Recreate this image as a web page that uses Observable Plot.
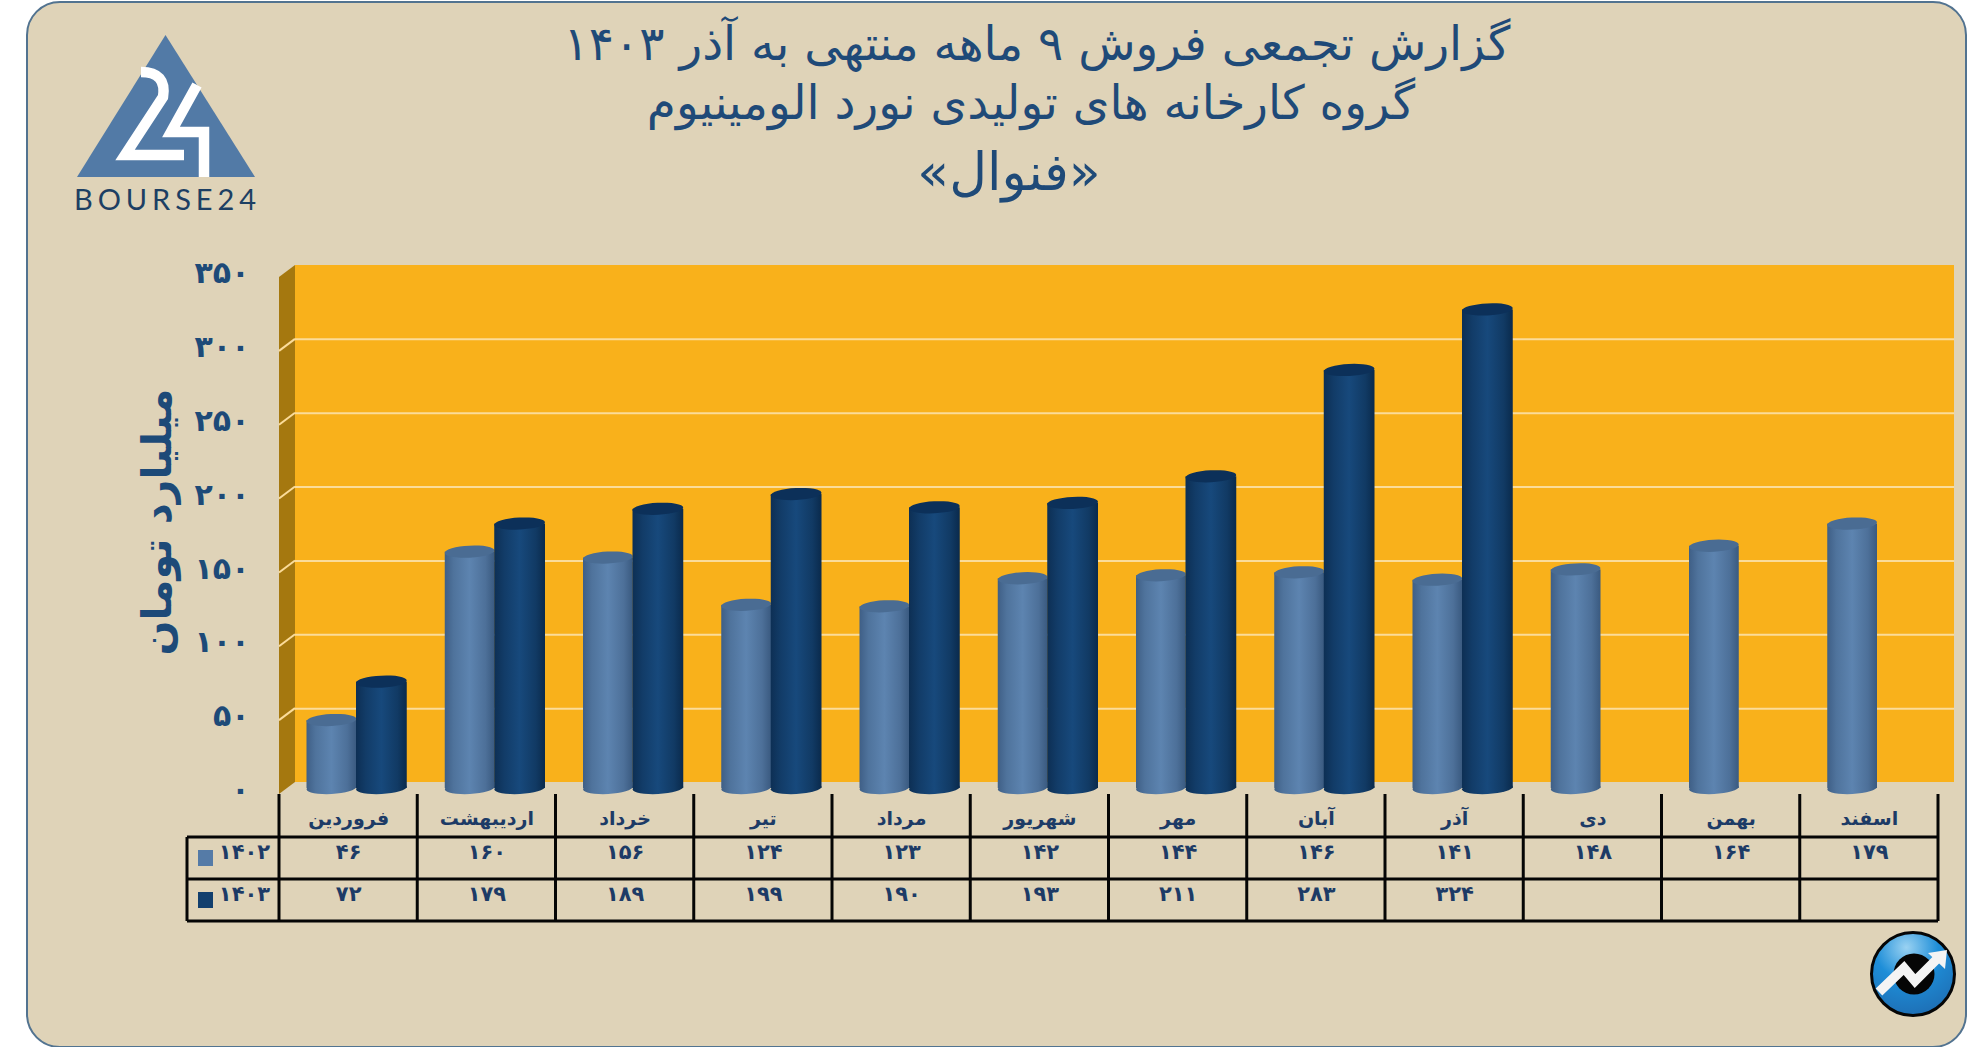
<!DOCTYPE html>
<html lang="fa"><head><meta charset="utf-8">
<script src="https://cdn.jsdelivr.net/npm/d3@7"></script>
<script src="https://cdn.jsdelivr.net/npm/@observablehq/plot@0.6"></script>
<style>
html,body{margin:0;padding:0;background:#fff;}
body{width:1986px;height:1047px;overflow:hidden;position:relative;font-family:"DejaVu Sans",sans-serif;}
#card{position:absolute;left:26px;top:1px;width:1937px;height:1043px;background:#dfd3b8;border:2.5px solid #527390;border-radius:34px;box-sizing:content-box;}
#title{position:absolute;left:0;width:1986px;text-align:center;color:#1f4a78;direction:rtl;}
#title div{position:absolute;left:500px;width:1074px;text-align:center;white-space:nowrap;}
#chart{position:absolute;left:0;top:0;}
#logo,#icon{position:absolute;left:0;top:0;}
</style></head><body>
<div id="card"></div>
<div id="title">
<div style="top:16px;font-size:47px;line-height:56px;">گزارش تجمعی فروش ۹ ماهه منتهی به آذر ۱۴۰۳</div>
<div style="top:75px;left:494px;font-size:47px;line-height:56px;">گروه کارخانه های تولیدی نورد الومینیوم</div>
<div style="top:142px;left:472px;font-size:52px;line-height:60px;">«فنوال»</div>
</div>
<svg id="logo" width="1986" height="1047">
<path d="M165.500 35 L255 177 L77 177 Z" fill="#527aa6"/>
<path d="M141 72 Q167 72 163 97 L125 155 L184 155" fill="none" stroke="#fff" stroke-width="10.500"/>
<path d="M197 85 L171 132 L204 132 L204 177" fill="none" stroke="#fff" stroke-width="10.500"/>
<text x="74" y="210" font-family="Lato" font-size="29" fill="#1d3f63" textLength="182" lengthAdjust="spacing">BOURSE24</text>
</svg>
<svg id="icon" width="1986" height="1047">
<defs><radialGradient id="ig" cx="0.42" cy="0.18" r="0.85"><stop offset="0" stop-color="#9ad2f2"/><stop offset="0.45" stop-color="#1e8ed8"/><stop offset="1" stop-color="#1e6eb4"/></radialGradient></defs>
<circle cx="1913" cy="974" r="41.500" fill="url(#ig)" stroke="#060606" stroke-width="3"/>
<circle cx="1914" cy="974" r="20.500" fill="#050505"/>
<path d="M1879 992 L1904 968 L1915 981 L1937 959" fill="none" stroke="#f4f4f4" stroke-width="9.500"/>
<path d="M1928 953 L1947 950 L1945 969 Z" fill="#f4f4f4"/>
</svg>
<div id="chart"></div>
<script>
const months = ["فروردین","اردیبهشت","خرداد","تیر","مرداد","شهریور","مهر","آبان","آذر","دی","بهمن","اسفند"];
const sales1402 = [46,160,156,124,123,142,144,146,141,148,164,179];
const sales1403 = [72,179,189,199,190,193,211,283,324,null,null,null];
const yTicks = [0,50,100,150,200,250,300,350];
const seriesLabels = ["۱۴۰۲","۱۴۰۳"];
const yLabel = "میلیارد تومان";

const fa = (v) => v == null ? "" : String(v).replace(/\d/g, (d) => "۰۱۲۳۴۵۶۷۸۹"[d]);
const textColor = "#1d3b66";
const rows = months.map((m,i)=>({month:m,a:sales1402[i],b:sales1403[i]}));
const rowsB = rows.filter(d=>d.b!=null);

// depth of the 3-D box, in pixels
const depthX = 16, depthY = 6;

const defs = () => {
  const s = d3.create("svg:defs");
  const grad = (id, stops) => {
    const g = s.append("linearGradient").attr("id", id).attr("x1",0).attr("x2",1).attr("y1",0).attr("y2",0);
    stops.forEach(([o,c]) => g.append("stop").attr("offset",o).attr("stop-color",c));
  };
  grad("light",[[0,"#3f5f86"],[0.18,"#4f739c"],[0.5,"#5d84b0"],[0.82,"#4d7099"],[1,"#3a5a80"]]);
  grad("dark",[[0,"#0d2f54"],[0.2,"#123c68"],[0.5,"#17497c"],[0.82,"#113a64"],[1,"#0a2a4c"]]);
  return s.node();
};

const box = (index, {x, y}) => {
  const g = d3.create("svg:g");
  const x0 = x(months[0]), x1 = x(months[11]) + x.bandwidth();
  // back wall
  g.append("rect").attr("x", x0+depthX).attr("y", y(350)-depthY)
    .attr("width", x1-x0).attr("height", y(0)-y(350)).attr("fill","#f9b11b");
  // side wall
  g.append("polygon").attr("fill","#a5780f").attr("points",[
    [x0,y(350)+depthY],[x0+depthX,y(350)-depthY],[x0+depthX,y(0)-depthY],[x0,y(0)+depthY]
  ].join(" "));
  // slanted grid on side wall
  yTicks.filter(t=>t>0&&t<350).forEach(t=>{
    g.append("line").attr("x1",x0).attr("x2",x0+depthX)
      .attr("y1",y(t)+depthY).attr("y2",y(t)-depthY)
      .attr("stroke","#fbdc9a").attr("stroke-width",2);
  });
  return g.node();
};

const caps = (data, key, top, idx, left, width) => (index, {x, y}) => {
  const g = d3.create("svg:g");
  data.forEach(d=>{
    const cx = x(d.month)+left+width/2;
    g.append("ellipse").attr("cx",cx).attr("cy",y(0)).attr("rx",width/2).attr("ry",depthY)
      .attr("fill",`url(#${idx})`).attr("transform",`rotate(-3 ${cx} ${y(0)})`);
    g.append("ellipse").attr("cx",cx).attr("cy",y(d[key])).attr("rx",width/2).attr("ry",depthY)
      .attr("fill",top).attr("transform",`rotate(-3 ${cx} ${y(d[key])})`);
  });
  return g.node();
};

// table geometry
const tableLeft = 187, tableTop = 837, tableMid = 879, tableBottom = 921, tableHead = 794;
const table = (index, {x}) => {
  const g = d3.create("svg:g").attr("stroke","#050505").attr("stroke-width",3);
  const xEnd = x(months[11]) + x.bandwidth();
  const line = (a,b,c,e)=>g.append("line").attr("x1",a).attr("y1",b).attr("x2",c).attr("y2",e);
  [tableTop,tableMid,tableBottom].forEach(yy=>line(tableLeft,yy,xEnd,yy));
  line(tableLeft,tableTop,tableLeft,tableBottom);
  months.forEach(m=>line(x(m),tableHead,x(m),tableBottom));
  line(xEnd,tableHead,xEnd,tableBottom);
  // legend swatches
  [["#557ba7",850],["#123f6e",892]].forEach(([c,yy])=>{
    g.append("rect").attr("x",198).attr("y",yy).attr("width",15).attr("height",16).attr("fill",c).attr("stroke","none");
  });
  return g.node();
};

const cellText = {frameAnchor:"bottom",lineAnchor:"middle",fontWeight:"bold",fill:textColor};
const plot = Plot.plot({
  width:1986, height:1047,
  marginLeft:279, marginRight:48, marginTop:271, marginBottom:259,
  style:{background:"transparent",fontFamily:"'DejaVu Sans',sans-serif"},
  x:{type:"band",domain:months,padding:0,axis:null,round:false},
  y:{domain:[0,350],axis:null},
  marks:[
    defs,
    box,
    Plot.ruleY(yTicks.filter(t=>t>0&&t<350),{stroke:"#fbdc9a",strokeWidth:2,dx:depthX,dy:-depthY}),
    Plot.barY(rows,{x:"month",y:"a",fill:"url(#light)",insetLeft:27.500,insetRight:61}),
    caps(rows,"a","#4a6c93","light",27.500,49.750),
    Plot.barY(rowsB,{x:"month",y:"b",fill:"url(#dark)",insetLeft:77,insetRight:10.500}),
    caps(rowsB,"b","#0c3059","dark",77,50.750),
    Plot.axisY(yTicks,{anchor:"left",tickSize:0,tickPadding:30,tickFormat:fa,fontSize:30,fontWeight:"bold",fill:"#1d4a78",label:null,dy:2}),
    table,
    Plot.text(months,{x:d=>d,text:d=>d,...cellText,dy:30,fontSize:19}),
    Plot.text(rows,{x:"month",text:d=>fa(d.a),...cellText,dy:64,fontSize:21}),
    Plot.text(rows,{x:"month",text:d=>fa(d.b),...cellText,dy:106,fontSize:21}),
    Plot.text([seriesLabels[0]],{...cellText,frameAnchor:"bottom-left",dx:-35,dy:64,fontSize:21,textAnchor:"middle"}),
    Plot.text([seriesLabels[1]],{...cellText,frameAnchor:"bottom-left",dx:-35,dy:106,fontSize:21,textAnchor:"middle"}),
    Plot.text([yLabel],{frameAnchor:"left",textAnchor:"middle",rotate:-90,dx:-122,dy:-8,fontSize:41,fontWeight:"bold",fill:"#1d4a78"})
  ]
});
document.getElementById("chart").appendChild(plot);
</script>
</body></html>
